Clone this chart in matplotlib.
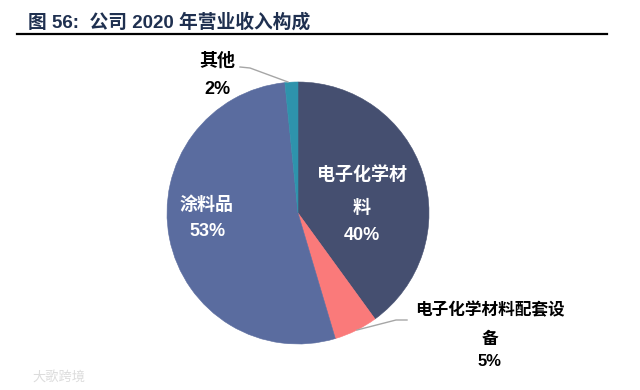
"""Pie chart of 2020 revenue composition, out.png at 640x390."""
import matplotlib.pyplot as plt
from matplotlib.lines import Line2D

plt.rcParams["font.family"] = ["Liberation Sans", "Noto Sans CJK SC", "DejaVu Sans"]

categories = ["电子化学材\n料", "电子化学材料配套设\n备", "涂料品", "其他"]
shares = [40, 5.4, 53, 1.6]
colors = ["#454F70", "#FA7A7A", "#5A6C9F", "#2E93AC"]

W, H = 640, 390
C_TITLE = "#1F3050"
C_LEADER = "#A6A6A6"


def px(x, y):
    # image pixels -> figure fraction
    return x / W, 1 - y / H


def label(x, ys, i, color="black", size=13):
    # one text per line, the reference has uneven line gaps
    lines = categories[i].split("\n") + [f"{shares[i]:.0f}%"]
    for y, line in zip(ys, lines):
        fx, fy = px(x, y)
        fig.text(fx, fy, line, ha="center", va="center", color=color,
                 fontsize=size, fontweight="bold")


fig = plt.figure(figsize=(W / 100, H / 100), dpi=100, facecolor="white")

# pie spans x 167-429, y 82-344 in the image
cx, cy, r = 298, 213, 131
ax = fig.add_axes([(cx - r) / W, 1 - (cy + r) / H, 2 * r / W, 2 * r / H])
wedges, _ = ax.pie(shares, colors=colors, startangle=90, counterclock=False, radius=1)
for w, c in zip(wedges, colors):
    # hide the thin white seams between slices
    w.set_edgecolor(c)
    w.set_linewidth(0.4)
ax.set_xlim(-1, 1)
ax.set_ylim(-1, 1)
ax.set_aspect("equal")
ax.axis("off")

# title + rule
fx, fy = px(28, 22)
fig.text(fx, fy, "图 56:  公司 2020 年营业收入构成", ha="left", va="center",
         color=C_TITLE, fontsize=13.5, fontweight="bold")
x0, y0 = px(17, 33.5)
x1, _ = px(607, 33.5)
fig.add_artist(Line2D([x0, x1], [y0, y0], color="black", lw=1.6))

# leader lines
for pts in ([(240, 67), (250, 68), (288, 82)], [(357, 330), (396, 320), (407, 320)]):
    xy = [px(*p) for p in pts]
    fig.add_artist(Line2D([p[0] for p in xy], [p[1] for p in xy], color=C_LEADER, lw=1))

# slice labels
label(362, [175, 208, 235], 0, color="white")
label(490, [310, 339, 362], 1, size=12)
label(207, [205, 232], 2, color="white")
label(217, [61, 90], 3)

# faded watermark
fx, fy = px(59, 377)
fig.text(fx, fy, "大歌跨境", ha="center", va="center", color="#DCDCDC", fontsize=9.5)

fig.savefig("out.png", dpi=100, facecolor="white")
